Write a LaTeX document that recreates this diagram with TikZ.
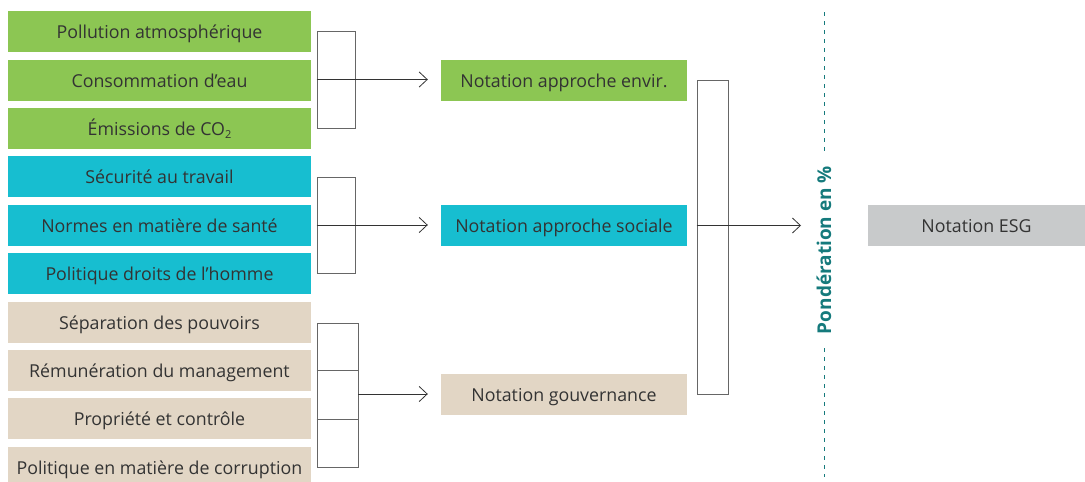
\documentclass[tikz,border=0pt]{standalone}
\usepackage{fontspec}
\setmainfont{Open Sans}
\usetikzlibrary{calc,positioning,arrows.meta}
\definecolor{envgreen}{HTML}{8CC653}
\definecolor{soccyan}{HTML}{17BED0}
\definecolor{govtan}{HTML}{E2D6C5}
\definecolor{esggray}{HTML}{C8CACB}
\definecolor{pondteal}{HTML}{157A7C}
\definecolor{txtgray}{HTML}{333333}
\tikzset{
	>={Straight Barb[length=8pt,width=15pt]},
	critere/.style={minimum width=303pt, minimum height=41pt, inner sep=0pt,
		text height=14.5pt, text depth=0pt,
		text=txtgray, font=\fontsize{17.8}{21}\selectfont},
	notation/.style={critere, minimum width=246pt},
	bracket/.style={draw=black!60, line width=0.9pt, minimum width=38pt, inner sep=0pt},
	flow/.style={->, draw=black!80, line width=0.8pt},
	dashline/.style={draw=pondteal, line width=0.9pt, dash pattern=on 4pt off 5pt},
}

\begin{document}
\begin{tikzpicture}[x=1pt, y=-1pt]
	\clip (0,0) rectangle (1085,482);
	% critères
	\node[critere, fill=envgreen] (pollution) at (159.5,31.5) {Pollution atmosphérique};
	\node[critere, fill=envgreen] (eau) at (159.5,80.5) {Consommation d’eau};
	\node[critere, fill=envgreen] (co2) at (159.5,128.5) {Émissions de CO\raisebox{-0.25ex}{\fontsize{11}{12}\selectfont 2}};
	\node[critere, fill=soccyan] (securite) at (159.5,176.5) {Sécurité au travail};
	\node[critere, fill=soccyan] (sante) at (159.5,225.5) {Normes en matière de santé};
	\node[critere, fill=soccyan] (homme) at (159.5,273.5) {Politique droits de l’homme};
	\node[critere, fill=govtan] (pouvoirs) at (159.5,322.5) {Séparation des pouvoirs};
	\node[critere, fill=govtan] (remun) at (159.5,370.5) {Rémunération du management};
	\node[critere, fill=govtan] (propriete) at (159.5,418.5) {Propriété et contrôle};
	\node[critere, fill=govtan] (corruption) at (159.5,467.5) {Politique en matière de corruption};

	% notations
	\node[notation, fill=envgreen] (nEnv) at (564,80.5) {Notation approche envir.};
	\node[notation, fill=soccyan] (nSoc) at (564,225.5) {Notation approche sociale};
	\node[notation, fill=govtan] (nGov) at (564,394) {Notation gouvernance};
	\node[critere, fill=esggray, minimum width=217pt] (nESG) at (976.5,225.5) {Notation ESG};

	% accolades
	\node[bracket, minimum height=97pt] (bEnv) at (336,79.5) {};
	\node[bracket, minimum height=96pt] (bSoc) at (336,225) {};
	\node[bracket, minimum width=41pt, minimum height=144pt] (bGov) at (337.5,395) {};
	\node[bracket, minimum width=31pt, minimum height=314pt] (bESG) at (712.5,237) {};
	\draw[black!60, line width=0.9pt] ($(bGov.north west)!1/3!(bGov.south west)$) -- ($(bGov.north east)!1/3!(bGov.south east)$)
		($(bGov.north west)!2/3!(bGov.south west)$) -- ($(bGov.north east)!2/3!(bGov.south east)$);

	\draw[flow, shorten >=13pt] (bEnv.west) -- (bEnv.west -| nEnv.west);
	\draw[flow, shorten >=13pt] (bSoc.west) -- (bSoc.west -| nSoc.west);
	\draw[flow, shorten >=13pt] (bGov.east |- nGov) -- (nGov.west);

	% pondération
	\coordinate (pond) at (801,225.5);
	\coordinate (dtop) at (824,12);
	\coordinate (dbot) at (824,477);
	\node[rotate=90, text=pondteal, inner xsep=14pt, font=\fontsize{19}{22}\selectfont\bfseries] (lblPond) at (824,250) {Pondération en \%};
	\draw[flow] (bESG.west |- nSoc) -- (pond);
	\draw[dashline] (dtop) -- (lblPond.east);
	\draw[dashline] (lblPond.west) -- (dbot);
\end{tikzpicture}
\end{document}
